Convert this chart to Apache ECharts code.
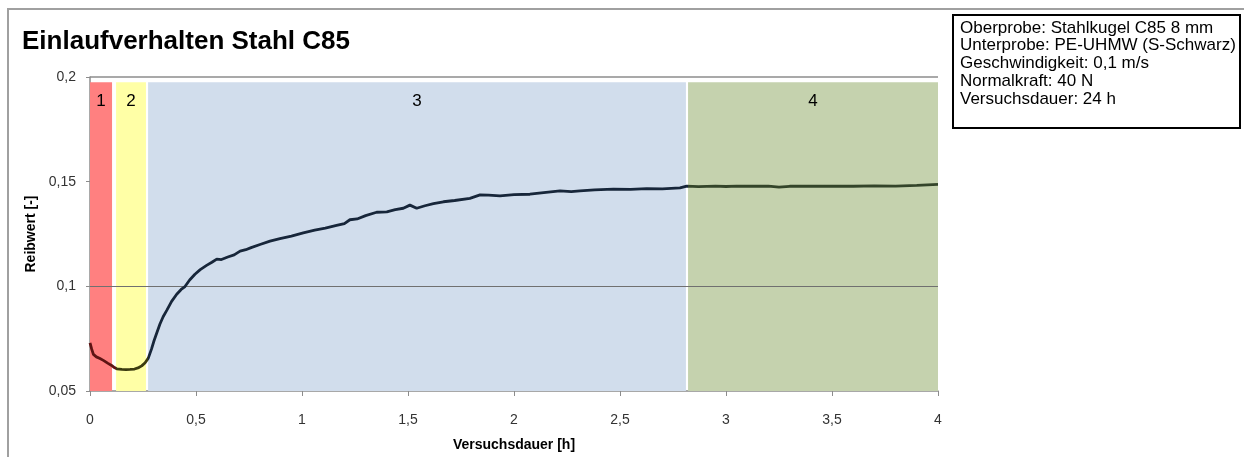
<!DOCTYPE html>
<html><head><meta charset="utf-8">
<script src="https://cdn.jsdelivr.net/npm/echarts@6/dist/echarts.min.js"></script>
<style>html,body{margin:0;padding:0;background:#fff}#c{width:1244px;height:457px}</style>
</head><body><div id="c"></div>
<script>
// Versuchsdauer [h]
const timeH = [0.000,0.008,0.016,0.030,0.047,0.065,0.085,0.102,0.115,0.126,0.150,0.170,0.189,0.210,0.230,0.244,0.260,0.275,0.290,0.302,0.314,0.330,0.345,0.362,0.385,0.409,0.430,0.448,0.470,0.495,0.520,0.550,0.575,0.598,0.620,0.650,0.680,0.708,0.735,0.760,0.802,0.849,0.896,0.950,1.006,1.060,1.110,1.163,1.200,1.226,1.260,1.300,1.352,1.400,1.440,1.478,1.509,1.541,1.580,1.620,1.667,1.720,1.792,1.840,1.880,1.934,2.000,2.075,2.140,2.217,2.270,2.311,2.380,2.469,2.550,2.626,2.700,2.783,2.815,2.870,2.950,3.000,3.050,3.120,3.200,3.250,3.300,3.400,3.500,3.600,3.700,3.800,3.900,4.000];
// Reibwert [-]
const reibwert = [0.0730,0.0700,0.0675,0.0663,0.0655,0.0645,0.0632,0.0622,0.0612,0.0606,0.0603,0.0602,0.0603,0.0605,0.0612,0.0620,0.0635,0.0657,0.0700,0.0740,0.0775,0.0820,0.0855,0.0885,0.0928,0.0962,0.0985,0.0999,0.1030,0.1058,0.1080,0.1100,0.1115,0.1130,0.1128,0.1140,0.1150,0.1168,0.1175,0.1185,0.1200,0.1216,0.1228,0.1240,0.1255,0.1268,0.1278,0.1291,0.1300,0.1318,0.1322,0.1338,0.1354,0.1356,0.1366,0.1373,0.1388,0.1373,0.1385,0.1395,0.1404,0.1410,0.1420,0.1437,0.1436,0.1432,0.1438,0.1440,0.1448,0.1456,0.1452,0.1456,0.1461,0.1464,0.1463,0.1467,0.1466,0.1470,0.1479,0.1476,0.1479,0.1477,0.1479,0.1478,0.1479,0.1474,0.1478,0.1479,0.1478,0.1478,0.1480,0.1479,0.1482,0.1487];
// Phasen (Bereiche)
const bandLabels = ['1','2','3','4'];
const bandStart = [0.000, 0.123, 0.274, 2.821];
const bandEnd   = [0.104, 0.264, 2.811, 4.000];
const bandTop = 0.1975;
const bandColors = ['#ff8080','#ffffa6','#d1ddec','#c5d2ae'];
const lineColors = ['#5e1414','#3c3c10','#17263a','#34452a'];
const infoLines = ['Oberprobe: Stahlkugel C85 8 mm','Unterprobe: PE-UHMW (S-Schwarz)','Geschwindigkeit: 0,1 m/s','Normalkraft: 40 N','Versuchsdauer: 24 h'];
const yTicks = [0.05, 0.2, 0.05]; // min, max, interval
const xTicks = [0, 4, 0.5];

const fmt = v => String(+(+v).toFixed(3)).replace('.', ',');
const chart = echarts.init(document.getElementById('c'));
const pts = timeH.map((t,i)=>[t, reibwert[i]]);
chart.setOption({
  animation:false,
  backgroundColor:'#fff',
  textStyle:{fontFamily:'Liberation Sans, Arial, sans-serif'},
  grid:{left:90,right:306,top:77,bottom:62,containLabel:false},
  title:{text:'Einlaufverhalten Stahl C85',left:17,top:24,textStyle:{fontSize:26,fontWeight:'bold',color:'#000',fontFamily:'Liberation Sans, Arial, sans-serif'}},
  graphic:[
    {type:'rect',z:-10,shape:{x:8,y:9,width:1400,height:600},style:{fill:null,stroke:'#a0a0a0',lineWidth:2},silent:true},
    {type:'rect',z:10,shape:{x:953,y:15,width:287,height:113},style:{fill:'#fff',stroke:'#000',lineWidth:2},silent:true},
    {type:'text',z:11,x:960,y:19,style:{text:infoLines.join('\n'),font:'17px "Liberation Sans", Arial, sans-serif',lineHeight:17.75,fill:'#000'},silent:true}
  ],
  xAxis:{type:'value',min:xTicks[0],max:xTicks[1],interval:xTicks[2],
    name:'Versuchsdauer [h]',nameLocation:'middle',nameGap:47,
    nameTextStyle:{fontSize:14,fontWeight:'bold',color:'#000'},
    axisLine:{show:true,lineStyle:{color:'#8c8c8c',width:1.5}},
    axisTick:{show:true,length:5,lineStyle:{color:'#8c8c8c'}},
    axisLabel:{formatter:fmt,fontSize:14,color:'#333',margin:22},
    splitLine:{show:false}},
  yAxis:{type:'value',min:yTicks[0],max:yTicks[1],interval:yTicks[2],
    name:'Reibwert [-]',nameLocation:'middle',nameGap:52,
    nameTextStyle:{fontSize:14,fontWeight:'bold',color:'#000'},
    axisLine:{show:true,lineStyle:{color:'#8c8c8c',width:1.5}},
    axisTick:{show:true,length:4,lineStyle:{color:'#8c8c8c'}},
    axisLabel:{formatter:fmt,fontSize:14,color:'#333',margin:14},
    splitLine:{show:false}},
  visualMap:{type:'piecewise',show:false,dimension:0,seriesIndex:0,
    pieces:[{lt:bandStart[1],color:lineColors[0]},{gte:bandStart[1],lt:bandStart[2],color:lineColors[1]},{gte:bandStart[2],lt:bandStart[3],color:lineColors[2]},{gte:bandStart[3],color:lineColors[3]}]},
  series:[{
    type:'line',data:pts,showSymbol:false,symbol:'none',z:5,
    lineStyle:{width:2.8},
    markArea:{silent:true,
      data:bandLabels.map((l,i)=>[{xAxis:bandStart[i],yAxis:yTicks[0],name:l,itemStyle:{color:bandColors[i],opacity:1},
        label:{show:true,position:'insideTop',distance:11,formatter:l,fontSize:17,color:'#000',fontFamily:'Liberation Sans, Arial, sans-serif'}},
        {xAxis:bandEnd[i],yAxis:bandTop}])},
    markLine:{silent:true,symbol:'none',label:{show:false},
      data:[{yAxis:0.1,lineStyle:{color:'#707070',width:1,type:'solid'}},{yAxis:0.2,lineStyle:{color:'#8c8c8c',width:1.5,type:'solid'}}]}
  }]
});
</script></body></html>
